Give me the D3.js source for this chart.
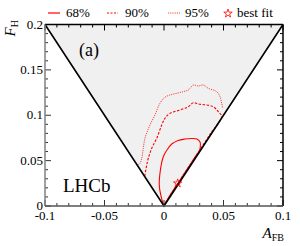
<!DOCTYPE html>
<html>
<head>
<meta charset="utf-8">
<script src="https://cdn.jsdelivr.net/npm/d3@7"></script>
<style>
  body { margin: 0; background: #fff; }
</style>
</head>
<body>
<svg id="chart"></svg>
<script>
// contour data, [A_FB, F_H]
var c68 = [[-0.0006,0.0011],[-0.0039,0.0213],[-0.0034,0.036],[-0.0006,0.0543],[0.0025,0.0617],
  [0.0065,0.0683],[0.0118,0.0722],[0.0176,0.0738],[0.0235,0.0744],[0.0277,0.0738],[0.0303,0.0705],
  [0.0305,0.065],[0.0297,0.0606],[0.0272,0.0562],[0.0232,0.048],[0.0172,0.036],[0.0112,0.024],
  [0.0052,0.012],[0.0006,0.0025],[-0.0006,0.0011]];
var c90 = [[-0.0162,0.033],[-0.0145,0.0452],[-0.0132,0.0526],[-0.0103,0.0636],[-0.0061,0.0746],
  [-0.0019,0.0893],[0.0008,0.0966],[0.005,0.1021],[0.0134,0.1058],[0.0204,0.1094],[0.0246,0.1138],
  [0.0288,0.1124],[0.0359,0.1113],[0.0414,0.1094],[0.0456,0.1039],[0.0485,0.0984],[0.0392,0.08],
  [0.0292,0.06],[0.0192,0.04],[0.0092,0.02],[0.001,0.003]];
var c95 = [[-0.0222,0.045],[-0.0202,0.047],[-0.0187,0.0526],[-0.0174,0.0636],[-0.016,0.0746],
  [-0.0118,0.0893],[-0.0076,0.1003],[-0.0034,0.1132],[0.0008,0.1198],[0.005,0.1223],[0.0107,0.1242],
  [0.0162,0.126],[0.0204,0.1278],[0.0246,0.1333],[0.0288,0.1322],[0.033,0.1333],[0.0372,0.1297],
  [0.0443,0.126],[0.0471,0.1204],[0.0485,0.1132],[0.0493,0.1077]];
var bestFit = [0.0115, 0.025];
var xTicks = [-0.1, -0.05, 0, 0.05, 0.1];
var xLabels = ["-0.1", "-0.05", "0", "0.05", "0.1"];
var yTicks = [0, 0.05, 0.1, 0.15, 0.2];
var yLabels = ["0", "0.05", "0.1", "0.15", "0.2"];
var physBound = [[-0.1,0.2],[0,0],[0.1,0.2]];

var svg = d3.select("#chart").attr("width", 300).attr("height", 246)
  .style("font-family", "Liberation Serif");

var x = d3.scaleLinear().domain([-0.1, 0.1]).range([45, 283]);
var y = d3.scaleLinear().domain([0, 0.2]).range([206, 24.5]);

var line = d3.line().x(function(d){ return x(d[0]); }).y(function(d){ return y(d[1]); });
var smooth = d3.line().curve(d3.curveCatmullRom.alpha(0.5))
  .x(function(d){ return x(d[0]); }).y(function(d){ return y(d[1]); });

// allowed region
svg.append("path")
  .attr("d", line(physBound) + "Z")
  .attr("fill", "#f0f0f0");

// contours
svg.append("path").attr("d", smooth(c95)).attr("fill", "none")
  .attr("stroke", "#ff3030").attr("stroke-width", 0.9).attr("stroke-dasharray", "1.2,1");
svg.append("path").attr("d", smooth(c90)).attr("fill", "none")
  .attr("stroke", "#ff0000").attr("stroke-width", 1.1).attr("stroke-dasharray", "2.5,1.5");
svg.append("path").attr("d", smooth(c68)).attr("fill", "none")
  .attr("stroke", "#ff0000").attr("stroke-width", 1.1);

// boundary lines
svg.append("path")
  .attr("d", line(physBound))
  .attr("fill", "none").attr("stroke", "#000").attr("stroke-width", 1.6);

// best fit star
var star = d3.symbol().type(d3.symbolStar).size(22);
svg.append("path")
  .attr("d", star())
  .attr("transform", "translate(" + x(bestFit[0]) + "," + y(bestFit[1]) + ")")
  .attr("fill", "none").attr("stroke", "#ff0000").attr("stroke-width", 0.8);

// ticks, inward
var tickG = svg.append("g");
d3.range(-10, 11).forEach(function(i){
  var v = i / 100, len = (i % 5 === 0) ? 6 : 3;
  tickG.append("line").attr("x1", x(v)).attr("x2", x(v)).attr("y1", 206).attr("y2", 206 - len)
    .attr("stroke", "#333").attr("stroke-width", 1);
  tickG.append("line").attr("x1", x(v)).attr("x2", x(v)).attr("y1", 24.5).attr("y2", 24.5 + len)
    .attr("stroke", "#000").attr("stroke-width", 1);
});
d3.range(0, 21).forEach(function(i){
  var v = i / 100, len = (i % 5 === 0) ? 6 : 3;
  tickG.append("line").attr("y1", y(v)).attr("y2", y(v)).attr("x1", 45).attr("x2", 45 + len)
    .attr("stroke", "#333").attr("stroke-width", 1);
  tickG.append("line").attr("y1", y(v)).attr("y2", y(v)).attr("x1", 283).attr("x2", 283 - len)
    .attr("stroke", "#000").attr("stroke-width", 1);
});

// frame
svg.append("line").attr("x1", 45).attr("x2", 283).attr("y1", 24.5).attr("y2", 24.5)
  .attr("stroke", "#000").attr("stroke-width", 1.5);
svg.append("line").attr("x1", 283).attr("x2", 283).attr("y1", 24.5).attr("y2", 206)
  .attr("stroke", "#000").attr("stroke-width", 1.5);
svg.append("line").attr("x1", 45).attr("x2", 45).attr("y1", 24.5).attr("y2", 206)
  .attr("stroke", "#808080").attr("stroke-width", 1.5);
svg.append("line").attr("x1", 45).attr("x2", 283).attr("y1", 206).attr("y2", 206)
  .attr("stroke", "#555").attr("stroke-width", 1.5);

// tick labels
svg.selectAll(".xl").data(xTicks).enter().append("text")
  .attr("x", function(d){ return x(d); }).attr("y", 220)
  .attr("text-anchor", "middle").attr("font-size", 13)
  .text(function(d, i){ return xLabels[i]; });
svg.selectAll(".yl").data(yTicks).enter().append("text")
  .attr("x", 43).attr("y", function(d){ return y(d) + 4; })
  .attr("text-anchor", "end").attr("font-size", 13)
  .text(function(d, i){ return yLabels[i]; });

// axis titles
var xt = svg.append("text").attr("x", 284).attr("y", 238).attr("text-anchor", "end");
xt.append("tspan").attr("font-size", 15).attr("font-style", "italic").text("A");
xt.append("tspan").attr("font-size", 10).attr("dy", 3).text("FB");

var yt = svg.append("text").attr("transform", "translate(15,20) rotate(-90)").attr("text-anchor", "end");
yt.append("tspan").attr("font-size", 15).attr("font-style", "italic").text("F");
yt.append("tspan").attr("font-size", 10).attr("dy", 3).text("H");

// labels in plot
svg.append("text").attr("x", 79).attr("y", 56).attr("font-size", 18).text("(a)");
svg.append("text").attr("x", 63).attr("y", 192).attr("font-size", 19).text("LHCb");

// legend
var leg = svg.append("g");
leg.append("line").attr("x1", 48).attr("x2", 60).attr("y1", 13).attr("y2", 13)
  .attr("stroke", "#ff0000").attr("stroke-width", 1.2);
leg.append("text").attr("x", 66).attr("y", 17).attr("font-size", 13).text("68%");
leg.append("line").attr("x1", 107).attr("x2", 118).attr("y1", 13).attr("y2", 13)
  .attr("stroke", "#ff0000").attr("stroke-width", 1.1).attr("stroke-dasharray", "2,1.5");
leg.append("text").attr("x", 125).attr("y", 17).attr("font-size", 13).text("90%");
leg.append("line").attr("x1", 168).attr("x2", 180).attr("y1", 13).attr("y2", 13)
  .attr("stroke", "#ff3030").attr("stroke-width", 0.9).attr("stroke-dasharray", "1.2,1");
leg.append("text").attr("x", 185).attr("y", 17).attr("font-size", 13).text("95%");
leg.append("path").attr("d", star())
  .attr("transform", "translate(228,13.5)")
  .attr("fill", "none").attr("stroke", "#ff0000").attr("stroke-width", 0.8);
leg.append("text").attr("x", 237).attr("y", 17).attr("font-size", 13).text("best fit");
</script>
</body>
</html>
